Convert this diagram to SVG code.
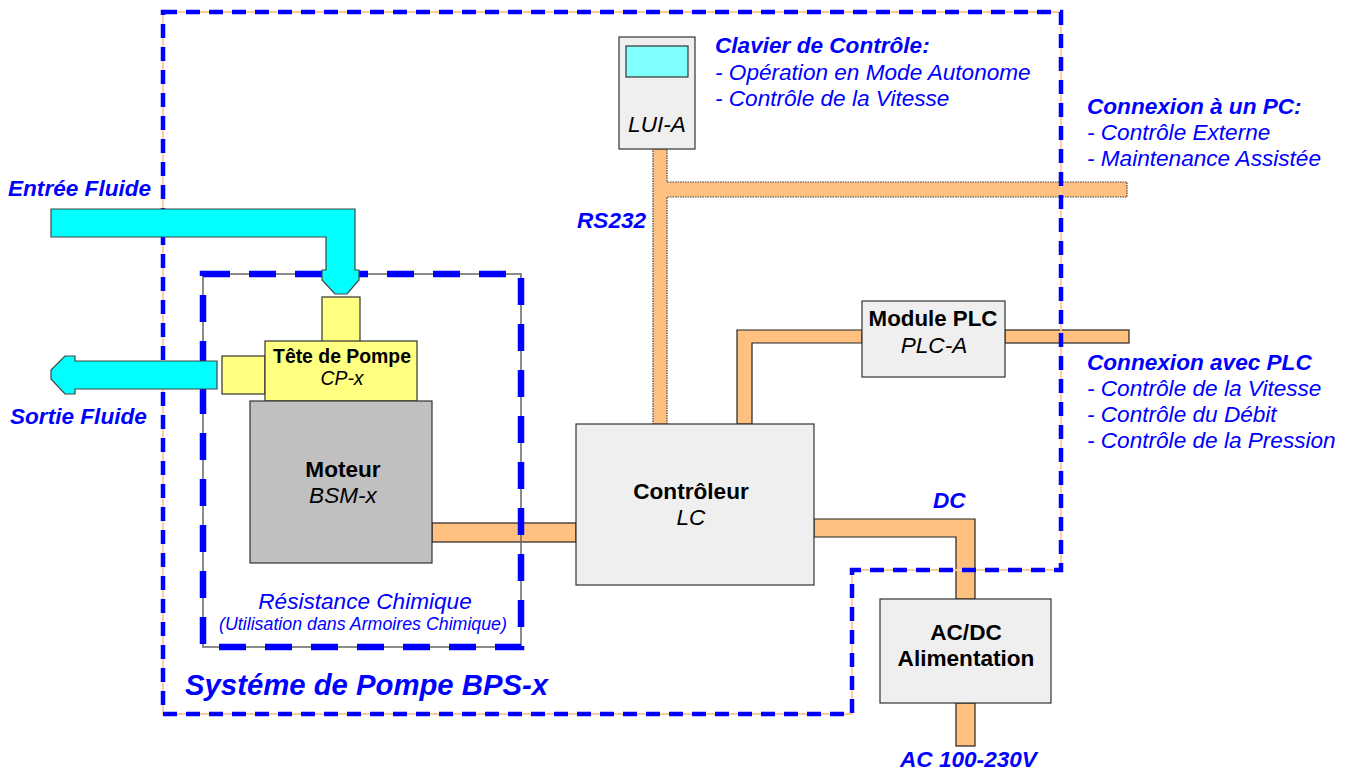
<svg xmlns="http://www.w3.org/2000/svg" width="1352" height="774" viewBox="0 0 1352 774">
<style>
text{font-family:"Liberation Sans",Arial,sans-serif;}
.lbl{fill:#0000FF;font-size:22.6px;font-style:italic;}
.b{font-weight:bold;}
.i{font-style:italic;}
.node{fill:#000;font-size:22.6px;text-anchor:middle;}
.box{fill:#EFEFEF;stroke:#333;stroke-width:1.2;}
.wire{fill:#FFC080;stroke:#222;stroke-width:1.2;}
.wired{fill:#FFC080;stroke:#444;stroke-width:1.2;stroke-dasharray:1.5 1;}
.fluid{fill:#00FFFF;stroke:#444;stroke-width:1.2;}
.yel{fill:#FFFF80;stroke:#333;stroke-width:1.2;}
</style>
<rect width="1352" height="774" fill="#FFFFFF"/>

<g id="connectors">
  <rect class="wire" x="432" y="523" width="144" height="19"/>
  <polygon class="wire" points="814,519 975,519 975,599 956,599 956,537 814,537"/>
  <rect class="wire" x="956" y="703" width="19" height="43"/>
  <polygon class="wired" points="653,149 667,149 667,182 1127,182 1127,197 667,197 667,424 653,424"/>
  <polygon class="wire" points="737,424 737,330 862,330 862,343 752,343 752,424"/>
  <rect class="wire" x="1005" y="330" width="124" height="13"/>
</g>

<g id="chem-boundary">
  <rect x="203" y="274" width="318" height="373" fill="none" stroke="#666" stroke-width="1.5"/>
  <rect x="203" y="274" width="318" height="373" fill="none" stroke="#0000FF" stroke-width="6.5" stroke-dasharray="27 19"/>
  <text class="lbl" x="365" y="609" text-anchor="middle">Résistance Chimique</text>
  <text class="lbl" x="363" y="630" text-anchor="middle" style="font-size:17.8px">(Utilisation dans Armoires Chimique)</text>
</g>

<g id="system-boundary">
  <path d="M163,12 H1061 V570 H852 V714 H163 Z" fill="none" stroke="#FFCC99" stroke-width="1.8"/>
  <path d="M163,12 H1061 V570 H852 V714 H163 Z" fill="none" stroke="#0000FF" stroke-width="4.5" stroke-dasharray="14 9"/>
  <text class="lbl b" x="185" y="695" style="font-size:29.3px">Systéme de Pompe BPS-x</text>
</g>

<g id="entree-fluide">
  <polygon class="fluid" points="51,209 355,209 355,270 359,270 359,280 347,294 335,294 322,280 322,270 326,270 326,237 51,237"/>
  <text class="lbl b" x="8" y="196">Entrée Fluide</text>
</g>

<g id="sortie-fluide">
  <polygon class="fluid" points="217,361 217,389 75,389 75,394 65,394 51,379 51,370 65,356 75,356 75,361"/>
  <text class="lbl b" x="10" y="424">Sortie Fluide</text>
</g>

<g id="tete-de-pompe">
  <rect class="yel" x="322" y="297" width="38" height="45"/>
  <rect class="yel" x="222" y="356" width="43" height="38"/>
  <rect class="yel" x="265" y="341" width="152" height="60"/>
  <text class="node b" x="342" y="363" style="font-size:19.4px">Tête de Pompe</text>
  <text class="node i" x="342" y="385" style="font-size:19.4px">CP-x</text>
</g>

<g id="moteur">
  <rect x="250" y="401" width="182" height="162" fill="#C0C0C0" stroke="#333" stroke-width="1.2"/>
  <text class="node b" x="343" y="477">Moteur</text>
  <text class="node i" x="343" y="503">BSM-x</text>
</g>

<g id="controleur">
  <rect class="box" x="576" y="424" width="238" height="161"/>
  <text class="node b" x="691" y="499">Contrôleur</text>
  <text class="node i" x="691" y="525">LC</text>
</g>

<g id="lui-a">
  <rect class="box" x="619" y="37" width="76" height="112"/>
  <rect x="626" y="46" width="62" height="31" fill="#80FFFF" stroke="#333" stroke-width="1.2"/>
  <text class="node i" x="657" y="132">LUI-A</text>
</g>

<g id="module-plc">
  <rect class="box" x="862" y="301" width="143" height="76"/>
  <text class="node b" x="933" y="326" style="font-size:22.3px">Module PLC</text>
  <text class="node i" x="934" y="353">PLC-A</text>
</g>

<g id="alimentation">
  <rect class="box" x="880" y="599" width="171" height="104"/>
  <text class="node b" x="966" y="640">AC/DC</text>
  <text class="node b" x="966" y="666">Alimentation</text>
</g>

<g id="labels">
  <text class="lbl b" x="577" y="228">RS232</text>
  <text class="lbl b" x="933" y="508">DC</text>
  <text class="lbl b" x="900" y="767">AC 100-230V</text>
  <text class="lbl" x="715" y="53"><tspan class="b">Clavier de Contrôle:</tspan><tspan x="715" y="80">- Opération en Mode Autonome</tspan><tspan x="715" y="106">- Contrôle de la Vitesse</tspan></text>
  <text class="lbl" x="1087" y="114"><tspan class="b">Connexion à un PC:</tspan><tspan x="1087" y="140">- Contrôle Externe</tspan><tspan x="1087" y="166">- Maintenance Assistée</tspan></text>
  <text class="lbl" x="1087" y="370"><tspan class="b">Connexion avec PLC</tspan><tspan x="1087" y="396">- Contrôle de la Vitesse</tspan><tspan x="1087" y="422">- Contrôle du Débit</tspan><tspan x="1087" y="448">- Contrôle de la Pression</tspan></text>
</g>
</svg>
